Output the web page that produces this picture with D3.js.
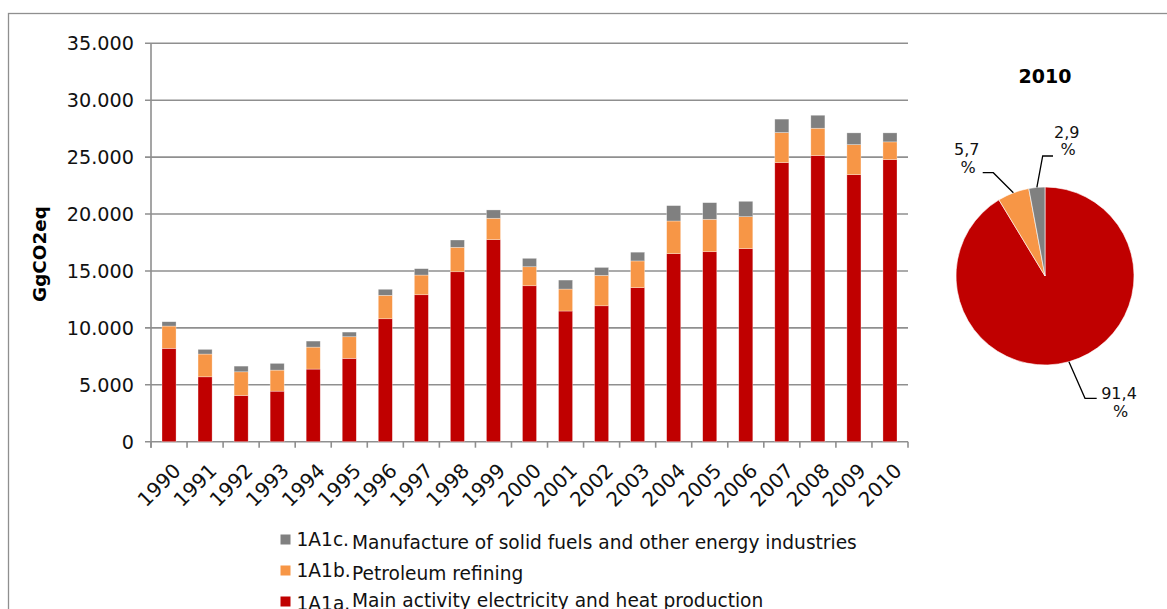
<!DOCTYPE html>
<html lang="en">
<head>
<meta charset="UTF-8">
<title>GgCO2eq 1A1</title>
<script src="https://d3js.org/d3.v7.min.js"></script>
<style>
  body { margin: 0; background: #fff; }
  svg { display: block; font-family: 'DejaVu Sans', Verdana, sans-serif; }
</style>
</head>
<body>
<svg id="chart" width="1167" height="609"></svg>
<script>
// --- data ---
const years = ["1990","1991","1992","1993","1994","1995","1996","1997","1998","1999","2000",
               "2001","2002","2003","2004","2005","2006","2007","2008","2009","2010"];
const electricity = [8200, 5700, 4060, 4440, 6380, 7320, 10800, 12910, 14930, 17750, 13700,
                     11480, 11940, 13530, 16520, 16690, 16960, 24520, 25130, 23460, 24780];
const refining = [1960, 2000, 2080, 1850, 1930, 1900, 2060, 1730, 2150, 1880, 1670,
                  1930, 2670, 2350, 2870, 2850, 2810, 2640, 2410, 2640, 1560];
const solidFuels = [380, 410, 500, 590, 530, 410, 530, 560, 640, 730, 740,
                    790, 700, 770, 1350, 1460, 1350, 1180, 1140, 1030, 790];
const yTicks = [0, 5000, 10000, 15000, 20000, 25000, 30000, 35000];
const seriesKeys = ["a", "b", "c"];
const seriesCodes = ["1A1a.", "1A1b.", "1A1c."];
const seriesNames = ["Main activity electricity and heat production", "Petroleum refining",
                     "Manufacture of solid fuels and other energy industries"];
const seriesColors = ["#c00000", "#f79646", "#808080"];
const pieLabels = ["91,4", "5,7", "2,9"];

const svg = d3.select("#chart");
const gridColor = "#8f8f8f";

// outer frame (cut off on right and bottom)
svg.append("rect").attr("x", 8.5).attr("y", 13.5).attr("width", 1300).attr("height", 800)
  .attr("fill", "none").attr("stroke", gridColor).attr("stroke-width", 1.3);

// --- stacked bars ---
const plot = { left: 151, right: 908, top: 43.3, bottom: 441.7 };
const rows = years.map((y, i) => ({ year: y, a: electricity[i], b: refining[i], c: solidFuels[i] }));
const stacked = d3.stack().keys(seriesKeys)(rows);

const x = d3.scaleBand().domain(years).range([plot.left, plot.right]).paddingInner(0.61).paddingOuter(0.305);
const y = d3.scaleLinear().domain([0, 35000]).range([plot.bottom, plot.top]);
const fmt = v => d3.format(",")(v).replace(/,/g, ".");

// gridlines + y ticks
svg.append("g").selectAll("line").data(yTicks).join("line")
  .attr("x1", plot.left - 6).attr("x2", plot.right)
  .attr("y1", d => y(d)).attr("y2", d => y(d))
  .attr("stroke", gridColor).attr("stroke-width", 1.6);

svg.append("g").selectAll("text").data(yTicks).join("text")
  .attr("x", 134).attr("y", d => y(d) + 6.8)
  .attr("text-anchor", "end").attr("font-size", 19.2).attr("fill", "#111")
  .text(fmt);

// y axis line
svg.append("line").attr("x1", plot.left).attr("x2", plot.left)
  .attr("y1", plot.top).attr("y2", plot.bottom + 6)
  .attr("stroke", gridColor).attr("stroke-width", 1.6);

// x ticks at band boundaries
const step = x.step();
const bounds = d3.range(years.length + 1).map(i => plot.left + i * step);
svg.append("g").selectAll("line").data(bounds).join("line")
  .attr("x1", d => d).attr("x2", d => d)
  .attr("y1", plot.bottom).attr("y2", plot.bottom + 6)
  .attr("stroke", gridColor).attr("stroke-width", 1.6);

svg.append("g").selectAll("g").data(stacked).join("g")
  .attr("fill", (d, i) => seriesColors[i])
  .selectAll("rect").data(d => d).join("rect")
  .attr("x", d => x(d.data.year))
  .attr("width", x.bandwidth())
  .attr("y", d => y(d[1]))
  .attr("height", d => y(d[0]) - y(d[1]))
  .attr("stroke", "#fff").attr("stroke-opacity", 0.5).attr("stroke-width", 0.6);

// year labels
svg.append("g").selectAll("text").data(years).join("text")
  .attr("transform", d => `translate(${x(d) + x.bandwidth() / 2 + 13},472) rotate(-45)`)
  .attr("text-anchor", "end").attr("font-size", 20).attr("fill", "#111")
  .text(d => d);

// y axis title
svg.append("text")
  .attr("transform", "translate(46,254) rotate(-90)")
  .attr("text-anchor", "middle").attr("font-size", 18.4).attr("font-weight", "bold")
  .text("GgCO2eq");

// --- legend (drawn top-down: c, b, a) ---
const legendOrder = [2, 1, 0];
const leg = svg.append("g").selectAll("g").data(legendOrder).join("g")
  .attr("transform", (d, i) => `translate(280.5,${534.5 + i * 31})`);
leg.append("rect").attr("width", 10).attr("height", 10).attr("fill", d => seriesColors[d]);
leg.append("text").attr("x", 16).attr("y", (d, i) => i === 2 ? 13 : 11)
  .attr("font-size", 18.6).attr("fill", "#111").text(d => seriesCodes[d]);
leg.append("text").attr("x", 71.5).attr("y", (d, i) => i === 2 ? 10.5 : 14)
  .attr("font-size", 18.6).attr("fill", "#111").text(d => seriesNames[d]);

// --- pie 2010 ---
const last = years.length - 1;
const pieValues = [electricity[last], refining[last], solidFuels[last]];
const cx = 1045, cy = 276, r = 89;
const arcs = d3.pie().sort(null)(pieValues);
const arc = d3.arc().innerRadius(0).outerRadius(r);
const pieG = svg.append("g").attr("transform", `translate(${cx},${cy})`);
pieG.selectAll("path").data(arcs).join("path")
  .attr("d", arc).attr("fill", (d, i) => seriesColors[i])
  .attr("stroke", "#fff").attr("stroke-width", 0.6);

svg.append("text").attr("x", cx).attr("y", 83).attr("text-anchor", "middle")
  .attr("font-size", 19).attr("font-weight", "bold").text("2010");

// leader elbows and label anchors relative to the pie centre
const leaderLayout = [
  { bend: [40, 122.3], end: [51.7, 122.3], lx: 74, ly: 123.3 },
  { bend: [-51.7, -103.3], end: [-62.3, -103.3], lx: -78.3, ly: -121 },
  { bend: [-2.3, -120], end: [8, -120], lx: 21.7, ly: -138.5 }
];
arcs.forEach((d, i) => {
  const mid = (d.startAngle + d.endAngle) / 2;
  const p0 = [Math.sin(mid) * r, -Math.cos(mid) * r];
  const L = leaderLayout[i];
  pieG.append("polyline")
    .attr("points", [p0, L.bend, L.end].map(p => p.join(",")).join(" "))
    .attr("fill", "none").attr("stroke", "#000").attr("stroke-width", 1.3);
  const t = pieG.append("text").attr("text-anchor", "middle").attr("font-size", 16).attr("fill", "#111");
  t.append("tspan").attr("x", L.lx).attr("y", L.ly).text(pieLabels[i]);
  t.append("tspan").attr("x", L.lx + 1.5).attr("y", L.ly + 17.8).text("%");
});
</script>
</body>
</html>
